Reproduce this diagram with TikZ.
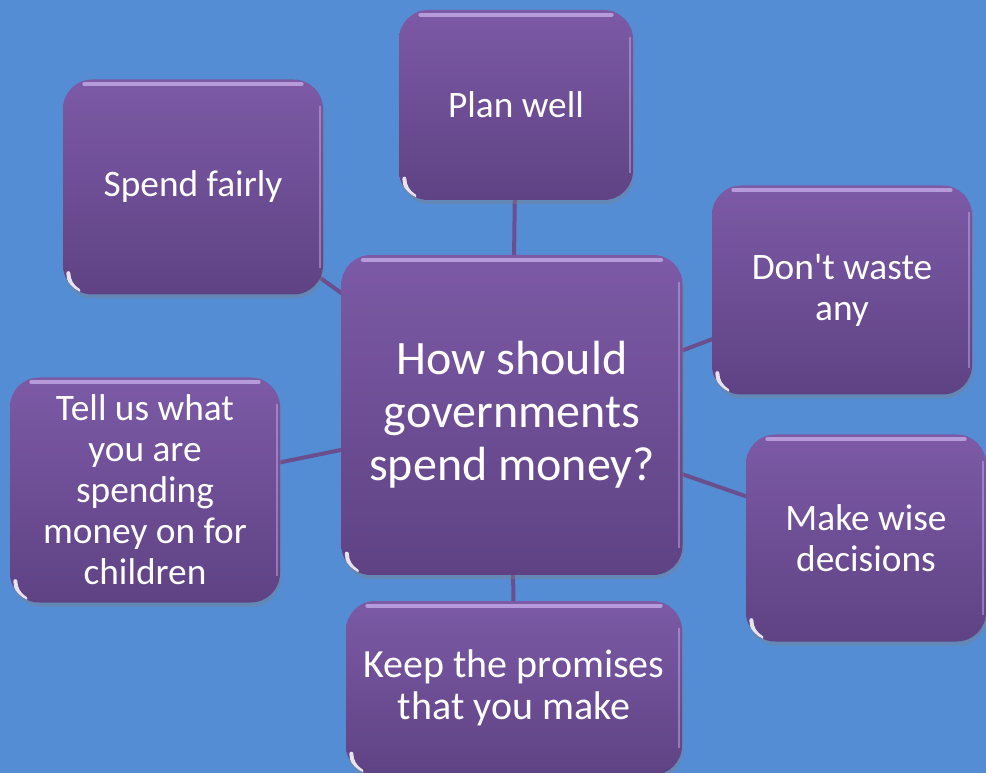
\documentclass[tikz,border=0pt]{standalone}
\usepackage{fontspec}
\setmainfont{Carlito}
\usetikzlibrary{backgrounds,shadows}
\definecolor{sky}{RGB}{84,141,212}
\definecolor{plumtop}{RGB}{124,90,166}
\definecolor{plumbot}{RGB}{95,66,132}
\definecolor{plumline}{RGB}{106,78,142}
\definecolor{plumrim}{RGB}{206,184,240}
\tikzset{
  idea/.style={rectangle, rounded corners=22pt, top color=plumtop,
    bottom color=plumbot, text=white, align=center,
    font=\fontsize{28}{30.75}\selectfont,
    drop shadow={opacity=0.35, shadow xshift=1pt, shadow yshift=-3pt},
    path picture={
      \draw[plumrim, line width=3pt, opacity=0.7, line cap=round]
        ([xshift=16pt,yshift=-3.5pt]path picture bounding box.north west)
        -- ([xshift=-16pt,yshift=-3.5pt]path picture bounding box.north east);
      \draw[plumrim, line width=1.6pt, opacity=0.45]
        ([xshift=-2.5pt,yshift=-20pt]path picture bounding box.north east)
        -- ([xshift=-2.5pt,yshift=20pt]path picture bounding box.south east);
      \draw[white, line width=3pt, opacity=0.85, line cap=round]
        ([xshift=4pt,yshift=16pt]path picture bounding box.south west)
        arc[start angle=180, end angle=240, radius=15pt];
    }},
  dim/.style 2 args={minimum width=#1*0.75pt, minimum height=#2*0.75pt},
  link/.style={plumline, line width=3pt}
}
\begin{document}
\begin{tikzpicture}[x=0.75pt,y=-0.75pt]
\useasboundingbox (0,0) rectangle (986,773);
% central question
\node[idea, dim={341}{320}, font=\fontsize{36}{39.75}\selectfont] (main) at (512,415)
  {How should\\governments\\spend money?};
% answers round it
\node[idea, dim={234}{190}] (plan) at (516,105) {Plan well};
\node[idea, dim={260}{215}] (fair) at (193,187) {Spend fairly};
\node[idea, dim={260}{209}] (waste) at (842,290) {Don\textquotesingle t waste\\any};
\node[idea, dim={270}{225}] (tell) at (145,490)
  {Tell us what\\you are\\spending\\money on for\\children};
\node[idea, dim={240}{207}] (wise) at (866,538) {Make wise\\decisions};
\node[idea, dim={336}{174}, font=\fontsize{30}{31.5}\selectfont] (keep) at (514,688)
  {Keep the promises\\that you make};
\begin{scope}[on background layer]
\fill[sky] (0,0) rectangle (986,773);
\foreach \n in {plan,fair,waste,tell,wise,keep}
  \draw[link] (main.center) -- (\n.center);
\end{scope}
\end{tikzpicture}
\end{document}
